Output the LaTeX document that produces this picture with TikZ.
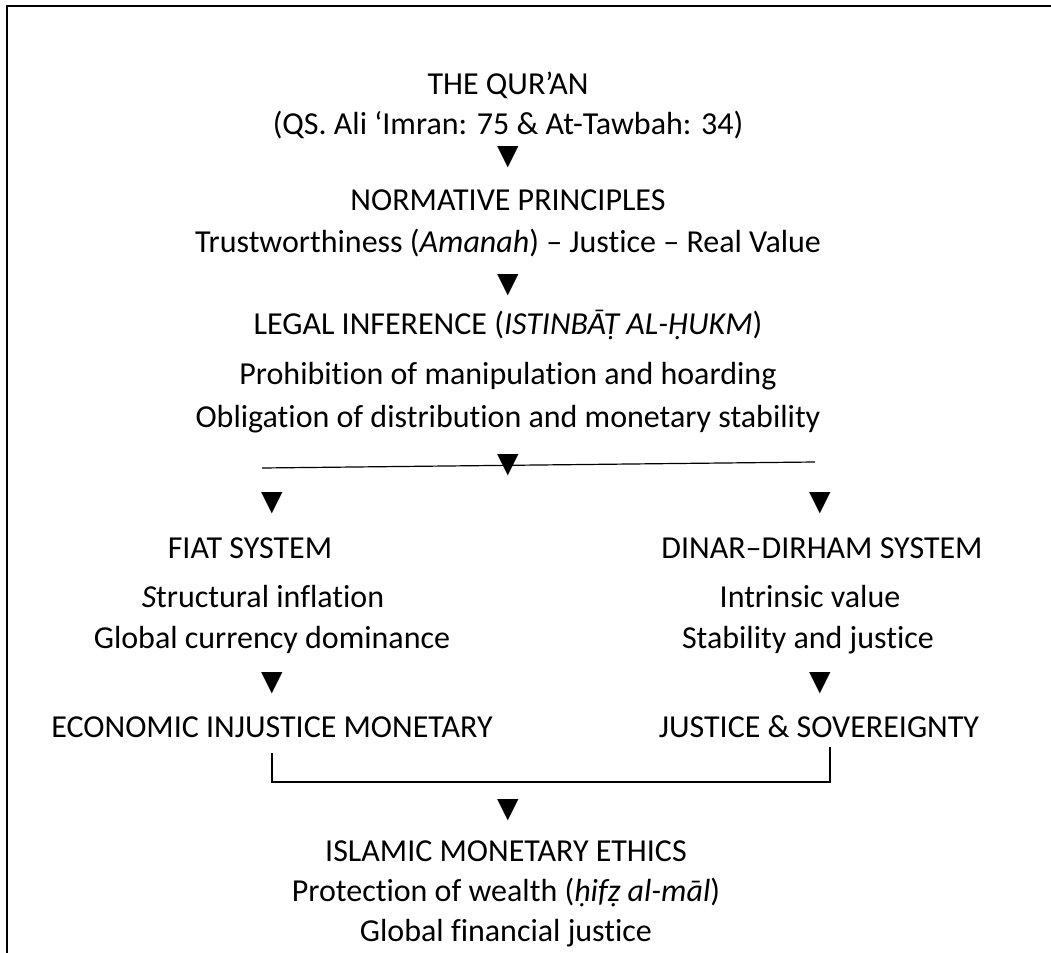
\documentclass[tikz,border=0pt]{standalone}
\usepackage{fontspec}
\setmainfont{Carlito}[Ligatures=NoCommon]
\newfontfamily\symfont{DejaVu Sans}
\usetikzlibrary{positioning}

\begin{document}
\begin{tikzpicture}[x=0.5pt,y=-0.5pt,line width=0.6pt,
        txt/.style={inner sep=0pt,font=\fontsize{16}{18}\selectfont},
        tri/.style={inner sep=0pt,font=\symfont\fontsize{14}{14}\selectfont}]
        \useasboundingbox (0,0) rectangle (1051,953);
        % cornice
        \draw[line width=0.9pt] (1051,6) -- (7,6) -- (7,953);
        % fonte
        \node[txt] (quran) at (508,85)  {THE QUR’AN};
        \node[txt] (qs)    at (508,125) {(QS. Ali ‘Imran: 75 \& At-Tawbah: 34)};
        \node[tri] (t1)    at (508,157) {▼};
        % principi
        \node[txt] (norm)  at (508,200) {NORMATIVE PRINCIPLES};
        \node[txt] (trust) at (508,243) {Trustworthiness (\textit{Amanah}) – Justice – Real Value};
        \node[tri] (t2)    at (508,285) {▼};
        % inferenza
        \node[txt] (legal) at (508,325) {LEGAL INFERENCE (\textit{ISTINBĀṬ AL-ḤUKM})};
        \node[txt] (proh)  at (508,376) {Prohibition of manipulation and hoarding};
        \node[txt] (oblig) at (508,419) {Obligation of distribution and monetary stability};
        % diramazione
        \coordinate (hl) at (262,468);
        \coordinate (hr) at (815,462);
        \draw (hl) -- (hr);
        \node[tri] (t3)    at (508,465) {▼};
        \node[tri] (tl)    at (272,503) {▼};
        \node[tri] (tr)    at (820,503) {▼};
        % sistemi
        \node[txt] (fiat)  at (250,548) {FIAT SYSTEM};
        \node[txt] (infl)  at (263,597) {\textit{S}tructural inflation};
        \node[txt] (glob)  at (272,640) {Global currency dominance};
        \node[tri] (tl2)   at (272,683) {▼};
        \node[txt] (econ)  at (272,727) {ECONOMIC INJUSTICE MONETARY};
        \node[txt] (dinar) at (822,548) {DINAR–DIRHAM SYSTEM};
        \node[txt] (intr)  at (810,597) {Intrinsic value};
        \node[txt] (stab)  at (808,640) {Stability and justice};
        \node[tri] (tr2)   at (820,683) {▼};
        \node[txt] (sov)   at (819,727) {JUSTICE \& SOVEREIGNTY};
        % raccordo
        \coordinate (bl) at (272,753);
        \coordinate (br) at (830,747);
        \coordinate (bb) at (0,782);
        \draw (bl) -- (bl |- bb) -- (br |- bb) -- (br);
        % etica
        \node[tri] (t4)    at (508,810) {▼};
        \node[txt] (ethic) at (506,851) {ISLAMIC MONETARY ETHICS};
        \node[txt] (prot)  at (506,893) {Protection of wealth (\textit{ḥifẓ al-māl})};
        \node[txt] (fin)   at (506,933) {Global financial justice};
\end{tikzpicture}
\end{document}
